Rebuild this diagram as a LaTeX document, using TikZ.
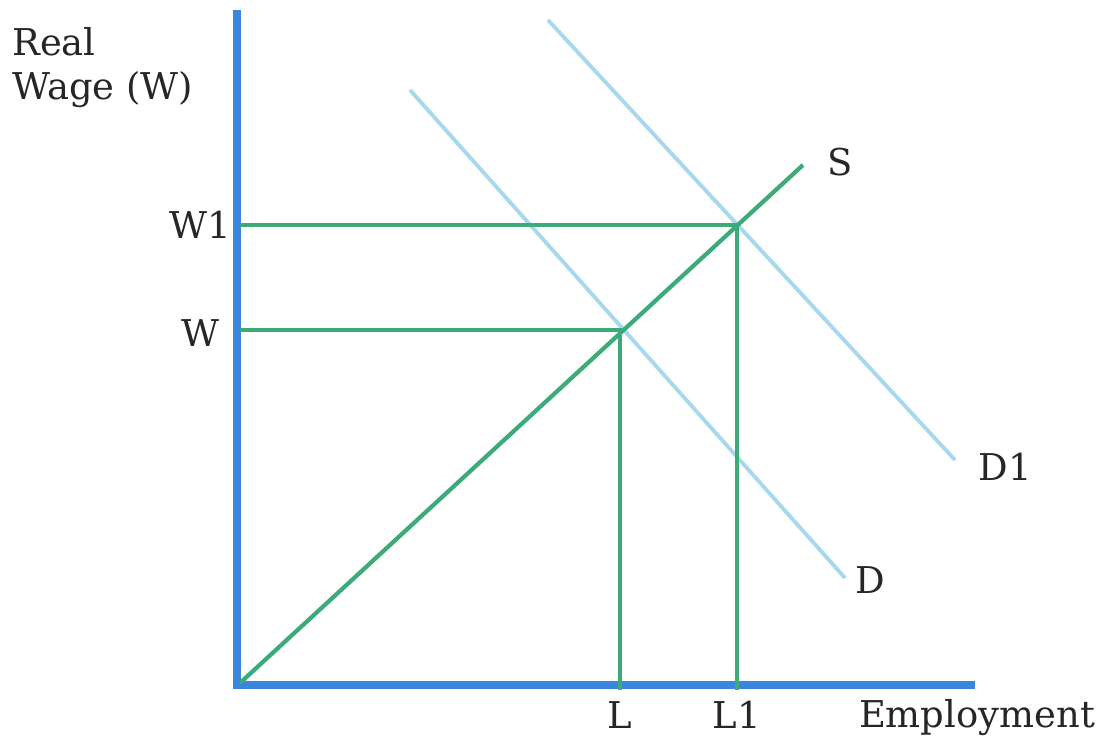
\documentclass[tikz,border=0pt]{standalone}
\usepackage{fontspec}
\setmainfont{DejaVu Serif}
\usepackage{xcolor}
\usepackage{tikz}
\usetikzlibrary{positioning}
\definecolor{axisblue}{HTML}{3A86DC}
\definecolor{curvegreen}{HTML}{3DAA7A}
\definecolor{demandblue}{HTML}{A8D8EE}

\begin{document}
\begin{tikzpicture}[
  x=0.01cm, y=-0.01cm,
  axis/.style={axisblue, line width=2pt},
  supply/.style={curvegreen, line width=1.2pt},
  guide/.style={curvegreen, line width=1.1pt},
  demand/.style={demandblue, line width=1.1pt},
  lbl/.style={font=\fontsize{10.5}{12.5}\selectfont, text=black!85, inner sep=1pt}
]
  \useasboundingbox (0,0) rectangle (1105,742);

  % axes
  \coordinate (origin) at (237,685);
  \coordinate (ytop) at (237,10);
  \coordinate (xend) at (975,685);
  \draw[axis] (ytop) -- (origin) -- (xend);

  % supply and demand
  \coordinate (s0) at (240,683);
  \coordinate (s1) at (803,165);
  \coordinate (d0) at (410,90);
  \coordinate (d1) at (845,578);
  \coordinate (dd0) at (548,20);
  \coordinate (dd1) at (955,460);
  \draw[demand] (d0) -- (d1);
  \draw[demand] (dd0) -- (dd1);
  \draw[supply] (s0) -- (s1);

  % equilibrium points
  \coordinate (eq) at (620,330);
  \coordinate (eqone) at (737,225);
  \coordinate (wy) at (240,330);
  \coordinate (wyone) at (240,225);
  \coordinate (lx) at (620,690);
  \coordinate (lxone) at (737,690);
  \draw[guide] (wy) -- (eq) -- (lx);
  \draw[guide] (wyone) -- (eqone) -- (lxone);

  % labels
  \node[lbl, anchor=west, align=left] (ylabel) at (8,68) {Real\\Wage (W)};
  \node[lbl] (wone) at (200,225) {W1};
  \node[lbl] (wlab) at (200,333) {W};
  \node[lbl] (slab) at (840,162) {S};
  \node[lbl] (ddlab) at (1005,467) {D1};
  \node[lbl] (dlab) at (870,580) {D};
  \node[lbl] (llab) at (620,715) {L};
  \node[lbl] (lonelab) at (737,715) {L1};
  \node[lbl] (xlabel) at (977,718) {Employment};
\end{tikzpicture}
\end{document}
